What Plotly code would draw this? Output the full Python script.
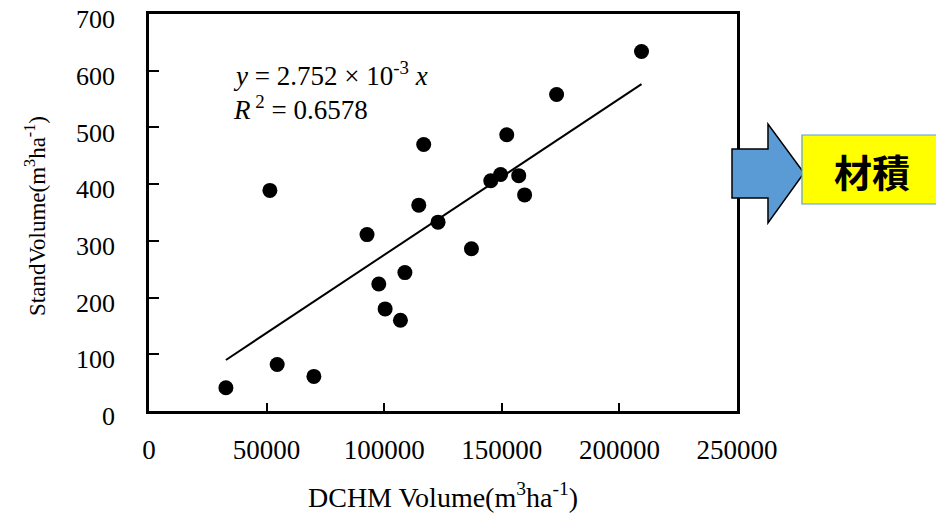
import plotly.graph_objects as go

# Data
dchm_volume = [32700, 54500, 70100, 51400, 92700, 97700, 100400, 106900, 108800, 114700,
               122900, 137100, 159700, 116800, 152100, 173300, 209400, 145300, 149500, 157200]
stand_volume = [41, 82, 61, 389, 311, 224, 180, 160, 244, 363,
                333, 286, 381, 470, 487, 558, 634, 406, 417, 415]
slope = 2.752e-3
r2 = 0.6578

x_ticks = [0, 50000, 100000, 150000, 200000, 250000]
y_ticks = [0, 100, 200, 300, 400, 500, 600, 700]

serif = "Liberation Serif, Times New Roman, serif"

fig = go.Figure()

xmin, xmax = min(dchm_volume), max(dchm_volume)
fig.add_trace(go.Scatter(
    x=[xmin, xmax], y=[slope * xmin, slope * xmax],
    mode="lines", line=dict(color="black", width=2), showlegend=False, hoverinfo="skip"))

fig.add_trace(go.Scatter(
    x=dchm_volume, y=stand_volume, mode="markers",
    marker=dict(color="black", size=15, symbol="circle"), showlegend=False))

fig.update_layout(
    width=936, height=508,
    margin=dict(l=141, r=207, t=6, b=105, autoexpand=False),
    paper_bgcolor="white", plot_bgcolor="white",
    font=dict(family=serif, color="black", size=24),
    xaxis=dict(range=[0, 250000], tickvals=x_ticks, ticktext=[str(v) for v in x_ticks],
               ticks="inside", ticklen=8, tickwidth=1.5, tickcolor="black",
               showline=True, linecolor="black", linewidth=2.5, mirror=True,
               showgrid=False, zeroline=False, ticklabelstandoff=13, automargin=False,
               ticklabeloverflow="allow",
               tickfont=dict(family=serif, size=27, color="black")),
    yaxis=dict(range=[0, 700], tickvals=y_ticks,
               ticks="inside", ticklen=10, tickwidth=1.5, tickcolor="black",
               showline=True, linecolor="black", linewidth=2.5, mirror=True,
               showgrid=False, zeroline=False, ticklabelstandoff=26, automargin=False,
               ticklabeloverflow="allow", ticklabelshift=5,
               tickfont=dict(family=serif, size=26, color="black")),
)

annotations = [
    dict(x=35000, y=594, xref="x", yref="y", xanchor="left", yanchor="middle",
         text="<i>y</i> = 2.752 × 10<sup>-3</sup> <i>x</i>", showarrow=False,
         font=dict(family=serif, size=27, color="black")),
    dict(x=35000, y=535, xref="x", yref="y", xanchor="left", yanchor="middle",
         text="<i>R</i><sup> 2</sup> = %.4f" % r2, showarrow=False,
         font=dict(family=serif, size=27, color="black")),
    dict(x=0.5, y=-0.212, xref="paper", yref="paper", xanchor="center", yanchor="middle",
         text="DCHM Volume(m<sup>3</sup>ha<sup>-1</sup>)", showarrow=False,
         font=dict(family=serif, size=28, color="black")),
    dict(x=-0.193, y=0.49, xref="paper", yref="paper", xanchor="center", yanchor="middle",
         text="StandVolume(m<sup>3</sup>ha<sup>-1</sup>)", showarrow=False, textangle=-90,
         font=dict(family=serif, size=23, color="black")),
    dict(x=1.2296, y=0.607, xref="paper", yref="paper", xanchor="center", yanchor="middle",
         text="<b>材積</b>", showarrow=False,
         font=dict(family="Noto Sans CJK JP", size=38, color="black")),
]
fig.update_layout(annotations=annotations)

shapes = [
    dict(type="path", xref="paper", yref="paper", layer="above",
         path="M 0.9915 0.6599 L 1.0527 0.6599 L 1.0527 0.7229 L 1.1139 0.5995 "
              "L 1.0527 0.4736 L 1.0527 0.5365 L 0.9915 0.5365 Z",
         fillcolor="#5B9BD5", line=dict(color="black", width=1.5)),
    dict(type="rect", xref="paper", yref="paper", layer="above",
         x0=1.1105, x1=1.3486, y0=0.5214, y1=0.6952,
         fillcolor="#FFFF00", line=dict(color="#5B9BD5", width=1.2)),
]
fig.update_layout(shapes=shapes)

fig.write_html("out.html")
